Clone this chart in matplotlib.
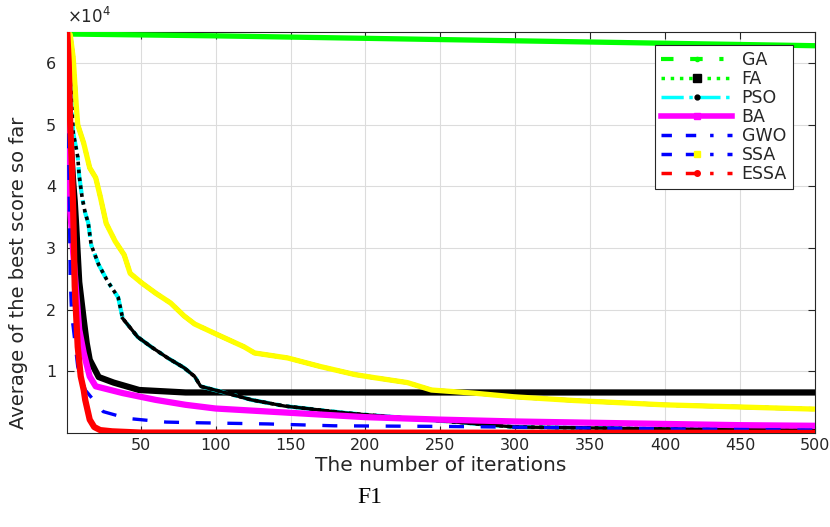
import matplotlib
matplotlib.use("Agg")
import matplotlib.pyplot as plt
from matplotlib.lines import Line2D

# convergence curves (iteration, best score)
iters_ga = [1, 100, 200, 300, 400, 500]
ga = [64700, 64400, 64000, 63600, 63200, 62800]

iters_fa = [1, 2, 5, 6, 7, 9, 12, 14, 16, 22, 32, 49, 80, 500]
fa = [60000, 52000, 40600, 37600, 33500, 24500, 18400, 14600, 11900, 9100,
      8200, 7000, 6600, 6600]

iters_pso = [1, 3, 5, 8, 9, 11, 13, 15, 17, 22, 28, 35, 38, 48, 57, 68, 79,
             86, 90, 101, 124, 146, 168, 186, 200, 250, 300, 400, 500]
pso = [64500, 58400, 48700, 44800, 41700, 38100, 35700, 34100, 30500, 27300,
       24600, 22000, 18600, 15600, 14000, 12200, 10600, 9200, 7600, 6900,
       5400, 4400, 3800, 3300, 3000, 2000, 1000, 700, 500]

iters_ba = [1, 2, 3, 4, 5, 7, 9, 12, 16, 20, 38, 60, 80, 100, 150, 200, 250,
            300, 350, 400, 450, 500]
ba = [52000, 44000, 36000, 33000, 29200, 22800, 16800, 13000, 9200, 7600,
      6500, 5400, 4600, 4000, 3300, 2600, 2200, 1900, 1700, 1500, 1300, 1200]

iters_gwo = [1, 2, 3, 4, 5, 8, 13, 25, 41, 67, 86, 135, 179, 250, 290, 400, 500]
gwo = [64000, 45000, 25000, 19000, 17200, 10800, 7000, 3500, 2400, 1800,
       1700, 1500, 1200, 1100, 1000, 700, 500]

iters_ssa = [1, 3, 5, 6, 7, 8, 12, 16, 20, 23, 27, 33, 39, 43, 51, 60, 70, 79,
             86, 101, 119, 126, 148, 170, 193, 206, 228, 244, 272, 299, 339,
             399, 500]
ssa = [65000, 64600, 60800, 57000, 53200, 50000, 47000, 43000, 41400, 38400,
       34000, 31100, 28900, 25900, 24300, 22700, 21100, 19000, 17700, 16000,
       14000, 13000, 12200, 10800, 9500, 9000, 8200, 7000, 6500, 5900, 5300,
       4600, 3900]

iters_essa = [1, 2, 3, 4, 5, 6, 8, 10, 12, 13, 16, 19, 23, 31, 50, 500]
essa = [65000, 60000, 50000, 44000, 36000, 23800, 14000, 9200, 7000, 5400,
        2200, 1000, 500, 300, 100, 50]

x_ticks = [50, 100, 150, 200, 250, 300, 350, 400, 450, 500]
y_ticks = [10000, 20000, 30000, 40000, 50000, 60000]
labels = ["GA", "FA", "PSO", "BA", "GWO", "SSA", "ESSA"]

plt.rcParams["font.family"] = ["DejaVu Sans"]
TXT = "#262626"

fig = plt.figure(figsize=(8.3, 5.27), dpi=100)
ax = fig.add_axes([0.081, 0.178, 0.901, 0.761])

ax.plot(iters_ga, ga, color="#00ff00", lw=3.8, solid_capstyle="butt", zorder=3)
ax.plot(iters_fa, fa, color="black", lw=4.5, zorder=3)
ax.plot(iters_pso, pso, color="#00ffff", lw=3, ls="-.", zorder=4)
ax.plot(iters_pso, pso, color="black", lw=2.6, ls=(0, (1, 1.2)), zorder=4)
ax.plot(iters_pso[12:], pso[12:], color="black", lw=2.4, zorder=4)
ax.plot(iters_ba, ba, color="#ff00ff", lw=4.5, zorder=4)
ax.plot(iters_gwo, gwo, color="#0000ff", lw=2.4, ls=(0, (4.5, 5)), zorder=5)
ax.plot(iters_ssa, ssa, color="#0000ff", lw=3, ls="-.", zorder=5)
ax.plot(iters_ssa, ssa, color="#ffff00", lw=3.8, zorder=5)
ax.plot(iters_essa, essa, color="#ff0000", lw=4.5, zorder=6)

ax.set_xlim(1, 500)
ax.set_ylim(0, 65000)
ax.set_xticks(x_ticks)
ax.set_yticks(y_ticks)
ax.set_yticklabels([str(v // 10000) for v in y_ticks])
ax.tick_params(direction="in", top=True, right=True, labelsize=11.5,
               colors=TXT, length=5)
ax.tick_params(axis="y", pad=8)
ax.grid(True, color="#dcdcdc", lw=0.8)
for s in ax.spines.values():
    s.set_color(TXT)
    s.set_linewidth(0.8)

ax.text(0.0, 1.012, r"$\times$10$^4$", transform=ax.transAxes, fontsize=12,
        color=TXT, ha="left", va="bottom")
ax.set_xlabel("The number of iterations", fontsize=14.5, color=TXT, labelpad=2)
ax.set_ylabel("Average of the best score so far", fontsize=14, color=TXT)
ax.yaxis.set_label_coords(-0.053, 0.40)

dashdot = (0, (3, 4, 3, 4, 1, 4))
handles = [
    Line2D([], [], color="#00ff00", lw=3, ls=dashdot, marker=".",
           markersize=6, markerfacecolor="#00ff00", markeredgecolor="#00ff00"),
    Line2D([], [], color="#00ff00", lw=2.5, ls=":", marker="s", markersize=6,
           markerfacecolor="black", markeredgecolor="black"),
    Line2D([], [], color="#00ffff", lw=2.5, ls="-.", marker="o", markersize=3.5,
           markerfacecolor="black", markeredgecolor="black"),
    Line2D([], [], color="#ff00ff", lw=4, ls="-", marker="s", markersize=5,
           markerfacecolor="#ff00ff", markeredgecolor="#ff00ff"),
    Line2D([], [], color="#0000ff", lw=2.5, ls=dashdot),
    Line2D([], [], color="#0000ff", lw=2.5, ls=dashdot, marker="s",
           markersize=5, markerfacecolor="#ffff00", markeredgecolor="#ffff00"),
    Line2D([], [], color="#ff0000", lw=2.5, ls=dashdot, marker="o",
           markersize=4, markerfacecolor="#ff0000", markeredgecolor="#ff0000"),
]
leg = ax.legend(handles, labels, loc="upper right", bbox_to_anchor=(0.9706, 0.9686),
                borderaxespad=0, fontsize=12.5, handlelength=4.1,
                handletextpad=0.55, labelspacing=0.06, fancybox=False,
                framealpha=1, edgecolor=TXT, borderpad=0.35)
leg.get_frame().set_linewidth(0.8)
for t in leg.get_texts():
    t.set_color(TXT)

fig.text(0.446, 0.045, "F1", fontsize=17, family="Liberation Serif",
         ha="center", color="black")

fig.savefig("out.png", dpi=100)
